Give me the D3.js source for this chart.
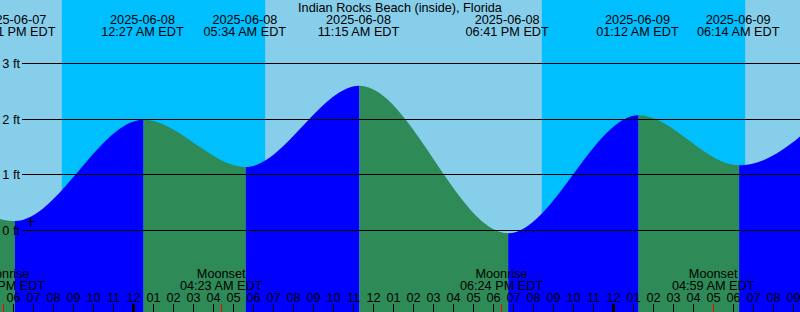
<!DOCTYPE html>
<html><head><meta charset="utf-8">
<script src="https://cdn.jsdelivr.net/npm/d3@7"></script>
<style>html,body{margin:0;padding:0;background:#fff}svg{display:block}</style>
</head><body>
<script>
const title = "Indian Rocks Beach (inside), Florida";
const tideTimes = ["2025-06-07 11:10","2025-06-07 18:01","2025-06-08 00:27","2025-06-08 05:34","2025-06-08 11:15","2025-06-08 18:41","2025-06-09 01:12","2025-06-09 06:14","2025-06-09 11:50"];
const tideHeights = [2.45, 0.17, 1.99, 1.14, 2.60, -0.05, 2.07, 1.17, 2.60];
const sunEvents = ["2025-06-07 20:25","2025-06-08 06:35","2025-06-08 20:25","2025-06-09 06:35"];
const sunTypes = ["set","rise","set","rise"];
const moonTimes = ["2025-06-07 17:30","2025-06-08 04:23","2025-06-08 18:24","2025-06-09 04:59"];
const moonLabels = ["Moonrise","Moonset","Moonrise","Moonset"];
const heightTicks = [0,1,2,3];
const markTime = "2025-06-07 18:50";
const markHeight = 0.165;
const viewStart = "2025-06-07 17:19:30";
const viewEnd = "2025-06-09 09:19:30";

const W = 800, H = 312;
const FONT = "'Liberation Sans', Arial, sans-serif";
const FS = 12.7;
const parse = d3.utcParse("%Y-%m-%d %H:%M");
const parseS = d3.utcParse("%Y-%m-%d %H:%M:%S");
const fmtDate = d3.utcFormat("%Y-%m-%d");
const fmtTime = d3.utcFormat("%I:%M %p EDT");
const fmtHour = d3.utcFormat("%I");

const x = d3.scaleUtc().domain([parseS(viewStart), parseS(viewEnd)]).range([0, W]);
const y = d3.scaleLinear().domain([0,3]).range([230.5, 63.5]);

const tides = tideTimes.map((t,i)=>({t:parse(t), h:tideHeights[i]}));

const svg = d3.select("body").append("svg").attr("width",W).attr("height",H)
  .style("font-family",FONT).style("font-size",FS+"px");

// day background
svg.append("rect").attr("width",W).attr("height",H).attr("fill","#87CEEB");
// night bands
const sun = sunEvents.map((t,i)=>({t:parse(t), type:sunTypes[i]}));
const nights = [];
sun.forEach((s,i)=>{ if(s.type==="set"){ const r = sun.slice(i+1).find(e=>e.type==="rise"); nights.push([s.t, r? r.t : x.domain()[1]]); } });
svg.selectAll("rect.night").data(nights).enter().append("rect").attr("class","night")
  .attr("x",d=>x(d[0])).attr("width",d=>x(d[1])-x(d[0])).attr("y",0).attr("height",H)
  .attr("fill","#00BFFF");

// tide area segments (rising = blue, falling = green)
const area = d3.area().x(d=>x(d.t)).y0(H).y1(d=>y(d.h)).curve(d3.curveMonotoneX);
const defs = svg.append("defs");
const areaG = svg.append("g").attr("transform","translate(1,0)");
for(let i=0;i<tides.length-1;i++){
  const a = tides[i], b = tides[i+1];
  const id = "seg"+i;
  defs.append("clipPath").attr("id",id).append("rect")
    .attr("x",x(a.t)).attr("width",x(b.t)-x(a.t)).attr("y",0).attr("height",H);
  areaG.append("path").datum(tides).attr("d",area).attr("clip-path",`url(#${id})`)
    .attr("fill", b.h > a.h ? "#0000FF" : "#2E8B57");
}

// grid lines & y labels
heightTicks.forEach(v=>{
  const yy = Math.floor(y(v))+0.5;
  svg.append("line").attr("x1",22).attr("x2",W).attr("y1",yy).attr("y2",yy)
    .attr("stroke","#000").attr("stroke-width",1);
  svg.append("text").attr("x",20).attr("y",yy+4.5).attr("text-anchor","end").text(v+" ft");
});

// mark
const mx = Math.round(x(parse(markTime)))+0.5, my = Math.round(y(markHeight))+0.5;
svg.append("path").attr("d",`M${mx-4},${my}H${mx+5}M${mx},${my-4}V${my+5}`)
  .attr("stroke","#000").attr("stroke-width",1).attr("fill","none");

// title
svg.append("text").attr("x",W/2).attr("y",12).attr("text-anchor","middle").text(title);

// tide labels
tides.filter(d=>x(d.t)>-60 && x(d.t)<W+60).forEach(d=>{
  const g = svg.append("g").attr("text-anchor","middle");
  g.append("text").attr("x",x(d.t)).attr("y",24).text(fmtDate(d.t));
  g.append("text").attr("x",x(d.t)).attr("y",36).text(fmtTime(d.t));
});

// hour ticks
const hours = d3.utcHour.range(d3.utcHour.ceil(x.domain()[0]), x.domain()[1]);
hours.forEach(h=>{
  const hx = Math.floor(x(h));
  const mid = h.getUTCHours()===0;
  svg.append("rect").attr("x", mid? hx-1 : hx).attr("width", mid?3:1)
    .attr("y",304).attr("height",8).attr("fill","#000");
  svg.append("text").attr("x",x(h)).attr("y",301.7).attr("text-anchor","middle").text(fmtHour(h));
});

// moon events
moonTimes.forEach((t,i)=>{
  const d = parse(t), mxp = x(d);
  svg.append("rect").attr("x",Math.floor(mxp)).attr("width",1).attr("y",304).attr("height",8).attr("fill","#FF0000");
  svg.append("text").attr("x",mxp).attr("y",277.7).attr("text-anchor","middle").text(moonLabels[i]);
  svg.append("text").attr("x",mxp).attr("y",289.5).attr("text-anchor","middle").text(fmtTime(d));
});
</script>
</body></html>
